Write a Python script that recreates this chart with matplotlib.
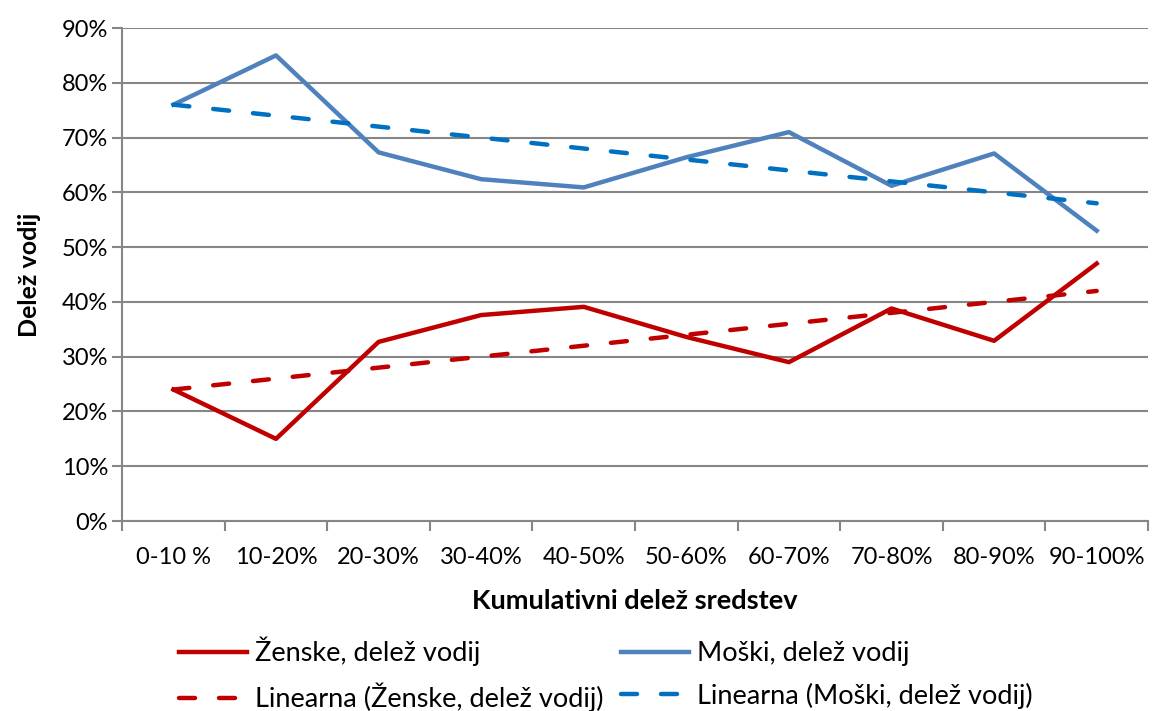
import numpy as np
import matplotlib.pyplot as plt
from matplotlib.ticker import PercentFormatter, FixedLocator

plt.rcParams['font.family'] = ['Lato', 'DejaVu Sans']

# kategorije in podatki (v %)
kategorije = ['0-10 %', '10-20%', '20-30%', '30-40%', '40-50%',
              '50-60%', '60-70%', '70-80%', '80-90%', '90-100%']
zenske = [24, 15, 32.7, 37.6, 39.1, 33.6, 29, 38.8, 32.9, 47]
moski = [76, 85, 67.3, 62.4, 60.9, 66.4, 71, 61.2, 67.1, 53]
zenske_trend = [24, 26, 28, 30, 32, 34, 36, 38, 40, 42]
moski_trend = [76, 74, 72, 70, 68, 66, 64, 62, 60, 58]

rdeca = '#C00000'
modra = '#4F81BD'
modra_trend = '#0070C0'
siva = '#868686'

fig = plt.figure(figsize=(11.52, 7.11), dpi=100)
ax = fig.add_axes([0.106, 0.2672, 0.8905, 0.6934])

x = np.arange(len(kategorije))
lw = 3.2
l1, = ax.plot(x, zenske, color=rdeca, lw=lw, label='Ženske, delež vodij', zorder=3)
l2, = ax.plot(x, moski, color=modra, lw=lw, label='Moški, delež vodij', zorder=3)
l3, = ax.plot(x, zenske_trend, color=rdeca, lw=lw, dashes=(3.6, 5.4),
              dash_capstyle='round', label='Linearna (Ženske, delež vodij)', zorder=4)
l4, = ax.plot(x, moski_trend, color=modra_trend, lw=lw, dashes=(3.6, 5.4),
              dash_capstyle='round', label='Linearna (Moški, delež vodij)', zorder=4)

ax.set_xlim(-0.5, len(kategorije) - 0.5)
ax.set_ylim(0, 90)
ax.set_yticks(np.arange(0, 91, 10))
ax.yaxis.set_major_formatter(PercentFormatter(decimals=0))
ax.set_xticks(x)
ax.set_xticklabels(kategorije)
ax.xaxis.set_minor_locator(FixedLocator(np.arange(-0.5, len(kategorije), 1)))

ax.grid(axis='y', color=siva, lw=1.5, zorder=0)
for s in ['top', 'right']:
    ax.spines[s].set_visible(False)
for s in ['left', 'bottom']:
    ax.spines[s].set_color(siva)
    ax.spines[s].set_linewidth(1.5)

ax.tick_params(axis='x', which='major', length=0, pad=19, labelsize=17)
ax.tick_params(axis='x', which='minor', length=7, width=1.5, color=siva, direction='out')
ax.tick_params(axis='y', length=7, width=1.5, color=siva, labelsize=17, pad=3)

ax.set_xlabel('Kumulativni delež sredstev', fontsize=19.5, fontweight='bold', labelpad=15)
ax.set_ylabel('Delež vodij', fontsize=18, fontweight='bold', labelpad=15)

fig.legend(handles=[l1, l3, l2, l4], loc='center', bbox_to_anchor=(0.526, 0.0514),
           ncol=2, frameon=False, fontsize=19.5, handlelength=2.5, handletextpad=0.3,
           columnspacing=0.65, labelspacing=0.6)

fig.savefig('out.png', dpi=100)
